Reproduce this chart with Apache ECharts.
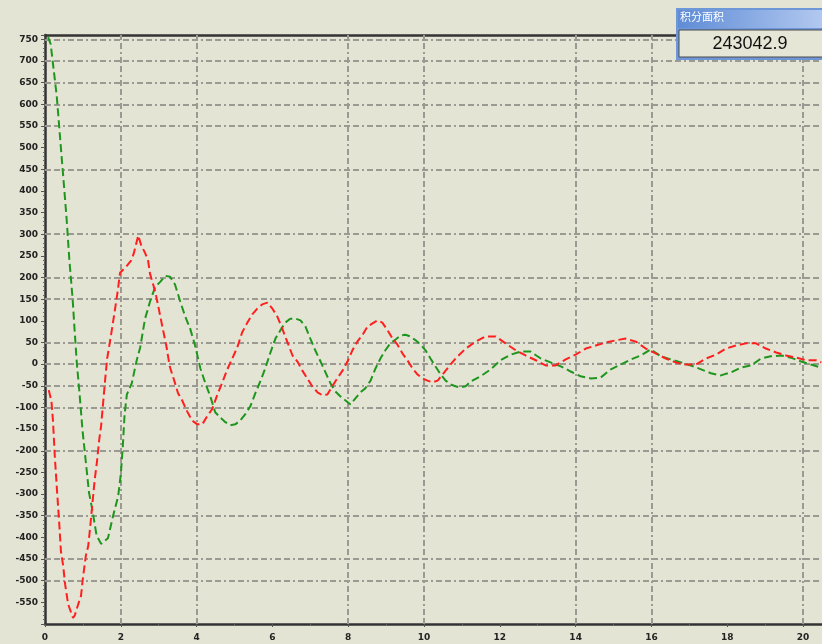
<!DOCTYPE html>
<html>
<head>
<meta charset="utf-8">
<script src="https://cdn.jsdelivr.net/npm/echarts@6/dist/echarts.min.js"></script>
<style>
  html, body { margin: 0; padding: 0; background: #e4e4d4; }
  #chart { width: 822px; height: 644px; }
</style>
</head>
<body>
<div id="chart"></div>
<script>
// Response traces: time (s) and amplitude samples
var redT = [0.10,0.17,0.21,0.26,0.32,0.37,0.42,0.48,0.53,0.61,
  0.69,0.74,0.79,0.87,0.95,1.00,1.08,1.14,1.19,1.31,
  1.37,1.43,1.48,1.53,1.59,1.64,1.74,1.85,1.92,1.98,
  2.14,2.27,2.34,2.46,2.54,2.64,2.72,2.77,2.91,2.99,
  3.10,3.20,3.29,3.41,3.51,3.62,3.75,3.88,4.02,4.15,
  4.28,4.41,4.54,4.68,4.81,4.94,5.07,5.20,5.34,5.47,
  5.60,5.73,5.87,6.00,6.13,6.26,6.39,6.53,6.66,6.79,
  6.92,7.05,7.19,7.32,7.45,7.58,7.71,7.85,7.98,8.11,
  8.24,8.38,8.51,8.64,8.77,8.90,9.04,9.17,9.30,9.43,
  9.56,9.70,9.83,9.96,10.09,10.22,10.36,10.57,10.83,11.10,
  11.36,11.62,11.89,12.15,12.42,12.68,12.95,13.21,13.47,13.74,
  14.00,14.27,14.53,14.80,15.06,15.32,15.59,15.85,16.11,16.38,
  16.64,16.91,17.17,17.44,17.70,17.97,18.23,18.49,18.76,19.02,
  19.29,19.55,19.82,20.08,20.34,20.48];
var redV = [-60,-86,-130,-215,-296,-360,-432,-466,-508,-554,
  -574,-586,-579,-556,-535,-494,-441,-420,-378,-268,
  -226,-175,-143,-93,-33,13,66,128,170,211,
  225,239,255,297,274,257,239,209,167,133,
  85,43,-5,-38,-67,-84,-109,-130,-139,-139,
  -120,-104,-72,-42,-12,13,38,73,96,115,
  128,138,142,128,110,82,52,20,6,-15,
  -33,-51,-65,-72,-70,-51,-33,-15,6,32,
  52,68,87,94,101,96,78,59,45,25,
  9,-10,-24,-33,-38,-42,-38,-15,13,36,
  52,64,64,48,32,20,9,-3,-3,11,
  22,36,43,50,55,59,52,36,25,13,
  4,-1,-1,13,22,36,43,48,48,36,
  27,20,15,9,9,4];

var greenT = [0.08,0.15,0.31,0.42,0.52,0.57,0.64,0.73,0.78,0.84,
  0.90,0.99,1.10,1.16,1.25,1.36,1.48,1.66,1.80,1.93,
  2.00,2.05,2.10,2.16,2.29,2.42,2.51,2.64,2.77,2.91,
  3.04,3.17,3.30,3.43,3.57,3.70,3.83,3.96,4.10,4.23,
  4.36,4.49,4.62,4.76,4.89,5.02,5.15,5.28,5.42,5.55,
  5.68,5.81,5.94,6.08,6.21,6.34,6.47,6.61,6.74,6.87,
  7.00,7.13,7.27,7.40,7.53,7.66,7.79,7.93,8.06,8.19,
  8.32,8.45,8.59,8.72,8.85,8.98,9.11,9.25,9.38,9.51,
  9.64,9.78,9.91,10.04,10.17,10.30,10.44,10.57,10.70,10.83,
  10.96,11.10,11.23,11.49,11.76,12.02,12.29,12.55,12.81,13.08,
  13.34,13.61,13.87,14.13,14.40,14.66,14.93,15.19,15.46,15.72,
  15.98,16.25,16.51,16.78,17.04,17.31,17.57,17.83,18.10,18.36,
  18.63,18.89,19.15,19.42,19.68,19.95,20.21,20.48];
var greenV = [755,739,619,499,391,336,244,149,80,2,
  -56,-153,-245,-296,-337,-395,-415,-402,-349,-305,
  -254,-194,-116,-70,-44,9,38,105,144,179,
  190,204,202,184,144,110,82,43,-10,-44,
  -74,-111,-123,-134,-141,-139,-130,-116,-97,-67,
  -40,-10,25,59,78,96,105,105,101,87,
  59,32,6,-19,-44,-63,-74,-84,-93,-79,
  -65,-56,-38,-10,13,32,48,57,66,68,
  64,55,45,32,13,-5,-24,-38,-47,-51,
  -54,-51,-40,-28,-12,9,22,29,29,13,
  4,-5,-17,-28,-33,-31,-12,-1,11,20,
  34,18,11,4,-3,-12,-21,-26,-19,-8,
  -3,13,18,20,15,6,-1,-8];

// Positions of the dashed grid lines on each axis
var xGridValues = [2, 4, 8, 10, 14, 16, 20];
var yGridValues = [750, 700, 650, 600, 550, 450, 300, 200, 150, 50, 0, -50, -100, -200, -350, -450, -500];

// Readout panel
var panelTitle = '积分面积';
var panelValue = '243042.9';

function zip(xs, ys) {
  var out = [];
  for (var i = 0; i < Math.min(xs.length, ys.length); i++) out.push([xs[i], ys[i]]);
  return out;
}

var gridDash = {color: '#9a9a92', width: 2, type: [6, 3, 6, 3, 2, 3]};
var gridLines = xGridValues.map(function (v) { return {xAxis: v}; })
  .concat(yGridValues.map(function (v) { return {yAxis: v}; }));

var chart = echarts.init(document.getElementById('chart'), null, {renderer: 'canvas'});
chart.setOption({
  animation: false,
  backgroundColor: '#e4e4d4',
  grid: {left: 45, right: 0, top: 35, bottom: 20},
  xAxis: [{
    type: 'value', min: 0, max: 20.5, interval: 2,
    axisLine: {onZero: false, lineStyle: {color: '#333', width: 2.5}},
    axisTick: {show: true, length: 3, inside: false, lineStyle: {color: '#555'}},
    minorTick: {show: true, splitNumber: 2, length: 2, lineStyle: {color: '#666'}},
    splitLine: {show: false},
    axisLabel: {
      showMaxLabel: false, margin: 9,
      fontSize: 9, fontWeight: 'bold', color: '#222', fontFamily: 'DejaVu Sans',
      formatter: function (v) { return v % 2 === 0 ? String(v) : ''; }
    }
  }, {
    type: 'value', min: 0, max: 20.5, position: 'top',
    axisLine: {show: true, onZero: false, lineStyle: {color: '#333', width: 2.5}},
    axisTick: {show: false}, axisLabel: {show: false}, splitLine: {show: false}
  }],
  yAxis: {
    type: 'value', min: -600, max: 760, interval: 50,
    axisLine: {show: true, onZero: false, lineStyle: {color: '#333', width: 2.5}},
    axisTick: {show: true, length: 4, lineStyle: {color: '#555'}},
    minorTick: {show: true, splitNumber: 5, length: 2, lineStyle: {color: '#666'}},
    splitLine: {show: false},
    axisLabel: {
      showMinLabel: false, showMaxLabel: false, margin: 7,
      fontSize: 9, fontWeight: 'bold', color: '#222', fontFamily: 'DejaVu Sans'
    }
  },
  series: [{
    type: 'line', name: 'grid', data: [], silent: true,
    markLine: {
      silent: true, symbol: ['none', 'none'], label: {show: false},
      lineStyle: gridDash, data: gridLines, z: 1
    }
  }, {
    type: 'line', name: 'A', data: zip(greenT, greenV), showSymbol: false,
    lineStyle: {color: '#1e961e', width: 2, type: [8, 4]}, z: 3
  }, {
    type: 'line', name: 'B', data: zip(redT, redV), showSymbol: false,
    lineStyle: {color: '#ff1f1f', width: 2, type: [8, 4]}, z: 4
  }],
  graphic: [
    {type: 'rect', z: 100, shape: {x: 676, y: 8, width: 150, height: 52},
      style: {fill: '#6e97d8'}},
    {type: 'rect', z: 101, shape: {x: 678, y: 10, width: 146, height: 18},
      style: {fill: new echarts.graphic.LinearGradient(0, 0, 1, 0, [
        {offset: 0, color: '#5f8cd6'}, {offset: 1, color: '#b3c9f0'}])}},
    {type: 'text', z: 102, style: {x: 680, y: 11, text: panelTitle, fill: '#ffffff',
      font: '11px "Noto Sans CJK SC"'}},
    {type: 'rect', z: 101, shape: {x: 679, y: 30, width: 145, height: 27},
      style: {fill: '#e6e6d6', stroke: '#4a4a4a', lineWidth: 1}},
    {type: 'text', z: 102, style: {x: 750, y: 44, text: panelValue, fill: '#111',
      align: 'center', verticalAlign: 'middle', font: '18px "Liberation Sans"'}}
  ]
});
</script>
</body>
</html>
